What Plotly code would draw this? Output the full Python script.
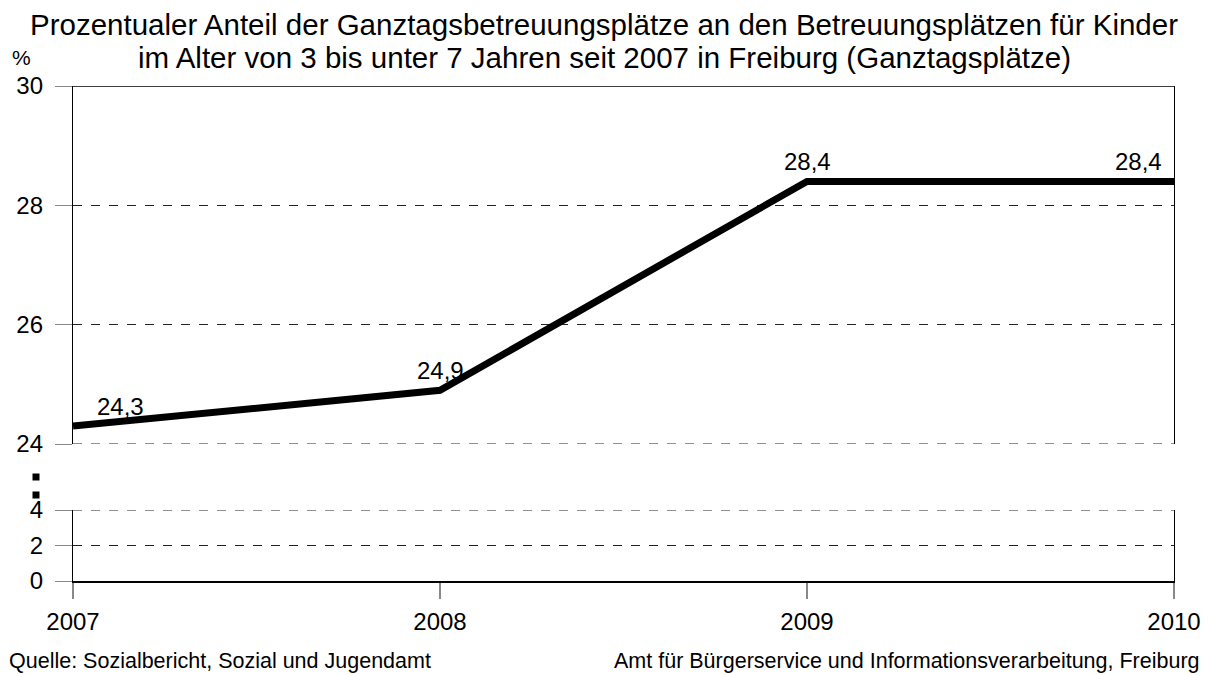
import plotly.graph_objects as go

# Data: share of full-day places among childcare places (age 3 to under 7), Freiburg
years = [2007, 2008, 2009, 2010]
share_pct = [24.3, 24.9, 28.4, 28.4]
value_labels = ["24,3", "24,9", "28,4", "28,4"]
label_xshift = [47, 0, 0, -36]

upper_ticks = [24, 26, 28, 30]
lower_ticks = [0, 2, 4]

title_lines = [
    "Prozentualer Anteil der Ganztagsbetreuungsplätze an den Betreuungsplätzen für Kinder",
    "im Alter von 3 bis unter 7 Jahren seit 2007 in Freiburg (Ganztagsplätze)",
]

FONT = "Liberation Sans, Arial, sans-serif"
W, H = 1208, 675
ML, MR, MT, MB = 73, 34, 86, 94
plot_w = W - ML - MR
plot_h = H - MT - MB


def px_x(px):
    return (px - ML) / plot_w


def px_y(py):
    return (H - MB - py) / plot_h


# panel split (broken value axis): upper 24..30, lower 0..4
upper_dom = [px_y(444), 1.0]
lower_dom = [0.0, px_y(510)]

fig = go.Figure()
fig.add_trace(go.Scatter(
    x=years, y=share_pct, mode="lines",
    line=dict(color="black", width=7),
    xaxis="x", yaxis="y", cliponaxis=False, hoverinfo="skip",
))
# empty trace so the lower panel is drawn
fig.add_trace(go.Scatter(x=[years[0]], y=[None], xaxis="x", yaxis="y2",
                         showlegend=False, hoverinfo="skip"))

for yr, v, t, xs in zip(years, share_pct, value_labels, label_xshift):
    fig.add_annotation(x=yr, y=v, xref="x", yref="y", text=t, showarrow=False,
                       xshift=xs, yshift=20, font=dict(size=24, color="black", family=FONT))

grid_style = dict(showgrid=True, gridcolor="#222222", griddash="dash", gridwidth=1,
                  ticks="outside", ticklen=17, tickcolor="#888888", tickwidth=1,
                  tickfont=dict(size=24, color="black", family=FONT),
                  showline=True, linecolor="black", linewidth=1.3, mirror=True,
                  zeroline=False, ticklabelstandoff=7, automargin=False)

fig.update_layout(
    width=W, height=H,
    margin=dict(l=ML, r=MR, t=MT, b=MB),
    paper_bgcolor="white", plot_bgcolor="white",
    showlegend=False,
    font=dict(family=FONT, color="black"),
    xaxis=dict(range=[2007, 2010], tickvals=years, ticktext=[str(y) for y in years],
               anchor="y2", showgrid=False, zeroline=False, automargin=False,
               showline=True, linecolor="black", linewidth=1.5,
               ticks="outside", ticklen=16, tickcolor="#888888", tickwidth=2,
               tickfont=dict(size=24, color="black", family=FONT),
               ticklabelstandoff=2),
    yaxis=dict(domain=upper_dom, range=[24, 30], tickvals=upper_ticks, **grid_style),
    yaxis2=dict(domain=lower_dom, range=[0, 4], tickvals=lower_ticks, **grid_style),
)

# title lines
for line, py in zip(title_lines, (24, 57)):
    fig.add_annotation(text=line, xref="paper", yref="paper",
                       x=px_x(604), y=px_y(py), xanchor="center", yanchor="middle",
                       showarrow=False, font=dict(size=29.5, color="black", family=FONT))

# top frame edge at 30 and dashed panel edges at the break
fig.add_shape(type="line", xref="paper", yref="y", x0=0, x1=1, y0=30, y1=30,
              line=dict(color="black", width=1.5))
fig.add_shape(type="line", xref="paper", yref="y", x0=0, x1=1, y0=24, y1=24,
              line=dict(color="#222222", width=1, dash="dash"))
fig.add_shape(type="line", xref="paper", yref="y2", x0=0, x1=1, y0=4, y1=4,
              line=dict(color="#222222", width=1, dash="dash"))

# axis break marks
bx = px_x(36)
for py in (477, 495):
    yc = px_y(py)
    fig.add_shape(type="rect", xref="paper", yref="paper",
                  x0=bx - 3.5 / plot_w, x1=bx + 3.5 / plot_w,
                  y0=yc - 3.5 / plot_h, y1=yc + 3.5 / plot_h,
                  fillcolor="black", line=dict(width=0))

fig.add_annotation(text="%", xref="paper", yref="paper",
                   x=px_x(21), y=px_y(57), xanchor="center", yanchor="middle",
                   showarrow=False, font=dict(size=21, color="black", family=FONT))
fig.add_annotation(text="Quelle: Sozialbericht, Sozial und Jugendamt", xref="paper", yref="paper",
                   x=px_x(7), y=px_y(661), xanchor="left", yanchor="middle",
                   showarrow=False, font=dict(size=21.5, color="black", family=FONT))
fig.add_annotation(text="Amt für Bürgerservice und Informationsverarbeitung, Freiburg",
                   xref="paper", yref="paper",
                   x=px_x(1202), y=px_y(661), xanchor="right", yanchor="middle",
                   showarrow=False, font=dict(size=21.5, color="black", family=FONT))

fig.write_html("out.html")
